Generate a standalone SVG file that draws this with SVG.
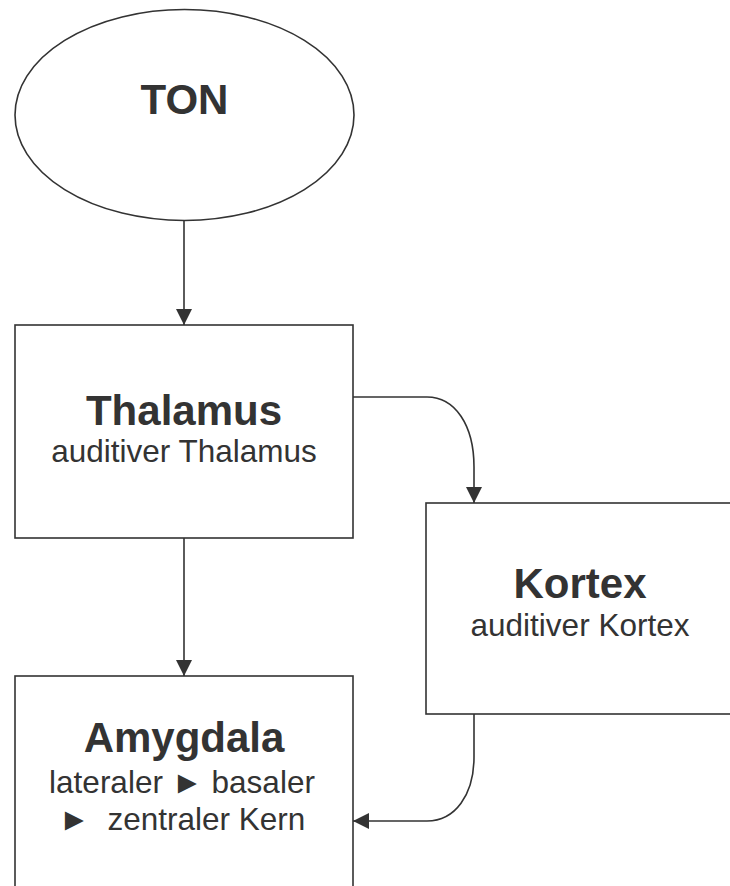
<svg xmlns="http://www.w3.org/2000/svg" width="730" height="886" viewBox="0 0 730 886">
<style>
.n{fill:#fff;stroke:#333;stroke-width:1.6}
.c{fill:none;stroke:#333;stroke-width:1.6}
.t{font-family:"Liberation Sans",Arial,sans-serif;fill:#333;text-anchor:middle}
.b{font-weight:bold;font-size:42px}
.s{font-size:31.5px}
</style>
<defs>
<marker id="ah" markerUnits="userSpaceOnUse" markerWidth="16" markerHeight="16" viewBox="0 0 16 16" refX="16" refY="8" orient="auto">
<path d="M0,0 L16,8 L0,16 Z" fill="#333"/>
</marker>
</defs>
<g id="ton">
<ellipse class="n" cx="184.5" cy="115" rx="169.5" ry="105.5"/>
<text class="t b" x="184.5" y="114">TON</text>
</g>
<g id="thalamus">
<rect class="n" x="15" y="325" width="338" height="213"/>
<text class="t b" x="184" y="425">Thalamus</text>
<text class="t s" x="184" y="462">auditiver Thalamus</text>
</g>
<g id="kortex">
<rect class="n" x="426" y="503" width="308" height="211"/>
<text class="t b" x="580" y="598">Kortex</text>
<text class="t s" x="580" y="636">auditiver Kortex</text>
</g>
<g id="amygdala">
<rect class="n" x="15" y="676" width="338" height="213"/>
<text class="t b" x="184" y="752">Amygdala</text>
<text class="t s" x="182" y="793">lateraler ► basaler</text>
<text class="t s" x="182" y="830" xml:space="preserve" style="white-space:pre">►  zentraler Kern</text>
</g>
<g id="connectors">
<path class="c" d="M184,220.5 V325" marker-end="url(#ah)"/>
<path class="c" d="M353,397 H427 C455,397 474,425 474,467 V503" marker-end="url(#ah)"/>
<path class="c" d="M184,538 V676" marker-end="url(#ah)"/>
<path class="c" d="M474,714 V757 C474,795 455,821 427,821 H353" marker-end="url(#ah)"/>
</g>
</svg>
